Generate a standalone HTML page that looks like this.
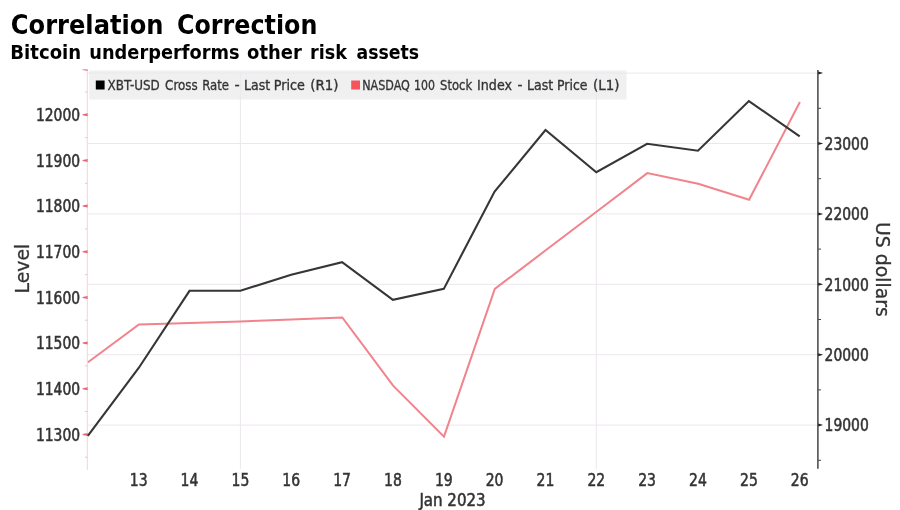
<!DOCTYPE html>
<html lang="en"><head><meta charset="utf-8"><title>Correlation Correction</title>
<style>
html,body{margin:0;padding:0;background:#fff;}
body{width:900px;height:510px;overflow:hidden;}
svg{display:block;filter:blur(0.55px);}
text{font-family:"DejaVu Sans Condensed","DejaVu Sans","Liberation Sans",sans-serif;}
.t{font-weight:bold;fill:#000;}
.l{fill:#333;stroke:#333;stroke-width:0.3px;}
.k{stroke-width:0.5px;}
</style></head><body>
<svg width="900" height="510" viewBox="0 0 900 510">
<rect width="900" height="510" fill="#fff"/>

<text class="t" y="33.9" font-size="27"><tspan x="10.86" textLength="152.67" lengthAdjust="spacingAndGlyphs">Correlation</tspan> <tspan x="177.08" textLength="140.27" lengthAdjust="spacingAndGlyphs">Correction</tspan></text>
<text class="t" y="58.5" font-size="20"><tspan x="10.34" textLength="70.85" lengthAdjust="spacingAndGlyphs">Bitcoin</tspan> <tspan x="89.32" textLength="150.2" lengthAdjust="spacingAndGlyphs">underperforms</tspan> <tspan x="247.05" textLength="54.76" lengthAdjust="spacingAndGlyphs">other</tspan> <tspan x="310.03" textLength="36.89" lengthAdjust="spacingAndGlyphs">risk</tspan> <tspan x="356.48" textLength="62.53" lengthAdjust="spacingAndGlyphs">assets</tspan></text>
<rect x="89.2" y="70.5" width="537.3" height="29" fill="#f0f0f1"/>
<g stroke="#ece7ee" stroke-width="1" fill="none">
<line x1="88" x2="818" y1="73.1" y2="73.1"/>
<line x1="88" x2="818" y1="143.5" y2="143.5"/>
<line x1="88" x2="818" y1="213.9" y2="213.9"/>
<line x1="88" x2="818" y1="284.3" y2="284.3"/>
<line x1="88" x2="818" y1="354.7" y2="354.7"/>
<line x1="88" x2="818" y1="425.1" y2="425.1"/>
<line x1="240.4" x2="240.4" y1="72.9" y2="469"/>
<line x1="596.3" x2="596.3" y1="72.9" y2="469"/>
</g>
<rect x="95.8" y="80.5" width="8.8" height="9" fill="#000"/>
<text class="l" y="90.2" font-size="14"><tspan x="107.53" textLength="52.28" lengthAdjust="spacingAndGlyphs">XBT-USD</tspan> <tspan x="165.09" textLength="32.61" lengthAdjust="spacingAndGlyphs">Cross</tspan> <tspan x="202.13" textLength="26.92" lengthAdjust="spacingAndGlyphs">Rate</tspan> <tspan x="234.43" textLength="5.2" lengthAdjust="spacingAndGlyphs">-</tspan> <tspan x="244.05" textLength="26.18" lengthAdjust="spacingAndGlyphs">Last</tspan> <tspan x="273.73" textLength="31.18" lengthAdjust="spacingAndGlyphs">Price</tspan> <tspan x="310.23" textLength="28.33" lengthAdjust="spacingAndGlyphs">(R1)</tspan></text>
<rect x="351.2" y="80.5" width="8.8" height="9" fill="#f4555c"/>
<text class="l" y="90.2" font-size="14"><tspan x="362.19" textLength="47.69" lengthAdjust="spacingAndGlyphs">NASDAQ</tspan> <tspan x="414.0" textLength="20.89" lengthAdjust="spacingAndGlyphs">100</tspan> <tspan x="440.11" textLength="31.99" lengthAdjust="spacingAndGlyphs">Stock</tspan> <tspan x="477.04" textLength="34.92" lengthAdjust="spacingAndGlyphs">Index</tspan> <tspan x="517.46" textLength="4.94" lengthAdjust="spacingAndGlyphs">-</tspan> <tspan x="527.05" textLength="26.18" lengthAdjust="spacingAndGlyphs">Last</tspan> <tspan x="557.07" textLength="30.33" lengthAdjust="spacingAndGlyphs">Price</tspan> <tspan x="593.14" textLength="26.44" lengthAdjust="spacingAndGlyphs">(L1)</tspan></text>
<line x1="87.3" x2="87.3" y1="69.3" y2="470" stroke="#fbd0d6" stroke-width="1"/>
<g fill="#ee6477">
<polygon points="82.6,433.9 82.6,434.9 87.6,435.9 87.6,432.9"/>
<polygon points="82.6,388.2 82.6,389.2 87.6,390.2 87.6,387.2"/>
<polygon points="82.6,342.6 82.6,343.6 87.6,344.6 87.6,341.6"/>
<polygon points="82.6,296.9 82.6,297.9 87.6,298.9 87.6,295.9"/>
<polygon points="82.6,251.3 82.6,252.3 87.6,253.3 87.6,250.3"/>
<polygon points="82.6,205.6 82.6,206.6 87.6,207.6 87.6,204.6"/>
<polygon points="82.6,159.9 82.6,160.9 87.6,161.9 87.6,158.9"/>
<polygon points="82.6,114.3 82.6,115.3 87.6,116.3 87.6,113.3"/>
<polygon points="82.4,69.3 82.4,70.1 87.6,70.9 87.6,69.3" fill-opacity="0.8"/>
</g>
<g stroke="#f2bcc4" stroke-width="1">
<line x1="85.2" x2="87.3" y1="457.2" y2="457.2"/>
<line x1="85.2" x2="87.3" y1="411.5" y2="411.5"/>
<line x1="85.2" x2="87.3" y1="365.9" y2="365.9"/>
<line x1="85.2" x2="87.3" y1="320.2" y2="320.2"/>
<line x1="85.2" x2="87.3" y1="274.6" y2="274.6"/>
<line x1="85.2" x2="87.3" y1="228.9" y2="228.9"/>
<line x1="85.2" x2="87.3" y1="183.3" y2="183.3"/>
<line x1="85.2" x2="87.3" y1="137.6" y2="137.6"/>
<line x1="85.2" x2="87.3" y1="92.0" y2="92.0"/>
</g>
<text class="l k" x="35.9" y="440.6" font-size="16.8" textLength="44.2" lengthAdjust="spacingAndGlyphs">11300</text>
<text class="l k" x="35.9" y="394.9" font-size="16.8" textLength="44.2" lengthAdjust="spacingAndGlyphs">11400</text>
<text class="l k" x="35.9" y="349.3" font-size="16.8" textLength="44.2" lengthAdjust="spacingAndGlyphs">11500</text>
<text class="l k" x="35.9" y="303.6" font-size="16.8" textLength="44.2" lengthAdjust="spacingAndGlyphs">11600</text>
<text class="l k" x="35.9" y="258.0" font-size="16.8" textLength="44.2" lengthAdjust="spacingAndGlyphs">11700</text>
<text class="l k" x="35.9" y="212.3" font-size="16.8" textLength="44.2" lengthAdjust="spacingAndGlyphs">11800</text>
<text class="l k" x="35.9" y="166.6" font-size="16.8" textLength="44.2" lengthAdjust="spacingAndGlyphs">11900</text>
<text class="l k" x="35.9" y="121.0" font-size="16.8" textLength="44.2" lengthAdjust="spacingAndGlyphs">12000</text>
<line x1="817.9" x2="817.9" y1="70" y2="468.8" stroke="#383838" stroke-width="1.4"/>
<g fill="#222">
<polygon points="823.2,425.1 818.2,423.6 818.2,426.6"/>
<polygon points="823.2,354.7 818.2,353.2 818.2,356.2"/>
<polygon points="823.2,284.3 818.2,282.8 818.2,285.8"/>
<polygon points="823.2,213.9 818.2,212.4 818.2,215.4"/>
<polygon points="823.2,143.5 818.2,142.0 818.2,145.0"/>
<polygon points="823.2,73.1 818.2,71.6 818.2,74.6"/>
</g>
<g stroke="#444" stroke-width="1">
<line x1="818.2" x2="821" y1="460.3" y2="460.3"/>
<line x1="818.2" x2="821" y1="389.9" y2="389.9"/>
<line x1="818.2" x2="821" y1="319.5" y2="319.5"/>
<line x1="818.2" x2="821" y1="249.1" y2="249.1"/>
<line x1="818.2" x2="821" y1="178.7" y2="178.7"/>
<line x1="818.2" x2="821" y1="108.3" y2="108.3"/>
</g>
<text class="l k" x="824.6" y="431.3" font-size="16.8" textLength="44.2" lengthAdjust="spacingAndGlyphs">19000</text>
<text class="l k" x="824.6" y="360.9" font-size="16.8" textLength="44.2" lengthAdjust="spacingAndGlyphs">20000</text>
<text class="l k" x="824.6" y="290.5" font-size="16.8" textLength="44.2" lengthAdjust="spacingAndGlyphs">21000</text>
<text class="l k" x="824.6" y="220.1" font-size="16.8" textLength="44.2" lengthAdjust="spacingAndGlyphs">22000</text>
<text class="l k" x="824.6" y="149.7" font-size="16.8" textLength="44.2" lengthAdjust="spacingAndGlyphs">23000</text>
<text class="l" font-size="20" textLength="49.6" lengthAdjust="spacingAndGlyphs" transform="translate(29.2 293.4) rotate(-90)">Level</text>
<text class="l" font-size="20" textLength="94.6" lengthAdjust="spacingAndGlyphs" transform="translate(876.0 222.1) rotate(90)">US dollars</text>
<text class="l k" x="129.8" y="486.2" font-size="16.8" textLength="17.8" lengthAdjust="spacingAndGlyphs">13</text>
<text class="l k" x="180.6" y="486.2" font-size="16.8" textLength="17.8" lengthAdjust="spacingAndGlyphs">14</text>
<text class="l k" x="231.5" y="486.2" font-size="16.8" textLength="17.8" lengthAdjust="spacingAndGlyphs">15</text>
<text class="l k" x="282.3" y="486.2" font-size="16.8" textLength="17.8" lengthAdjust="spacingAndGlyphs">16</text>
<text class="l k" x="333.2" y="486.2" font-size="16.8" textLength="17.8" lengthAdjust="spacingAndGlyphs">17</text>
<text class="l k" x="384.0" y="486.2" font-size="16.8" textLength="17.8" lengthAdjust="spacingAndGlyphs">18</text>
<text class="l k" x="434.9" y="486.2" font-size="16.8" textLength="17.8" lengthAdjust="spacingAndGlyphs">19</text>
<text class="l k" x="485.7" y="486.2" font-size="16.8" textLength="17.8" lengthAdjust="spacingAndGlyphs">20</text>
<text class="l k" x="536.6" y="486.2" font-size="16.8" textLength="17.8" lengthAdjust="spacingAndGlyphs">21</text>
<text class="l k" x="587.4" y="486.2" font-size="16.8" textLength="17.8" lengthAdjust="spacingAndGlyphs">22</text>
<text class="l k" x="638.2" y="486.2" font-size="16.8" textLength="17.8" lengthAdjust="spacingAndGlyphs">23</text>
<text class="l k" x="689.1" y="486.2" font-size="16.8" textLength="17.8" lengthAdjust="spacingAndGlyphs">24</text>
<text class="l k" x="740.0" y="486.2" font-size="16.8" textLength="17.8" lengthAdjust="spacingAndGlyphs">25</text>
<text class="l k" x="790.8" y="486.2" font-size="16.8" textLength="17.8" lengthAdjust="spacingAndGlyphs">26</text>
<text class="l k" x="419.4" y="505.6" font-size="16.8" textLength="66.2" lengthAdjust="spacingAndGlyphs">Jan 2023</text>
<polyline points="87.8,361.8 138.7,324.1 189.5,322.6 240.4,321 291.2,319 342.1,317 392.9,385.3 443.8,436.3 494.6,288.5 545.5,249.9 596.3,211.3 647.1,172.7 698.0,183.4 748.9,199.4 799.7,101.6" fill="none" stroke="#f1838c" stroke-width="2" stroke-linejoin="miter" transform="translate(0.2 0.4)"/>
<polyline points="87.8,435.5 138.7,367.6 189.5,290.4 240.4,290.4 291.2,274.3 342.1,261.8 392.9,299.4 443.8,288.5 494.6,191.2 545.5,129.6 596.3,171.8 647.1,143.4 698.0,150.3 748.9,100.7 799.7,136" fill="none" stroke="#363636" stroke-width="2.1" stroke-linejoin="miter" transform="translate(0 0.4)"/>
</svg>
</body></html>
